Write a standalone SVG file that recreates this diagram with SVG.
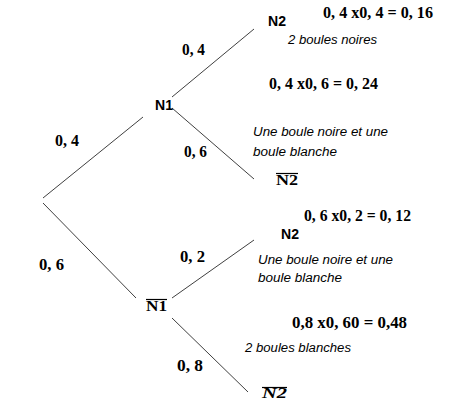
<svg xmlns="http://www.w3.org/2000/svg" width="451" height="410" viewBox="0 0 451 410">
<style>
.edge{stroke:#404040;stroke-width:1;fill:none}
.node{font-family:"Liberation Sans",Arial,sans-serif;font-weight:bold;font-size:14px;fill:#000}
.nodeS{font-family:"Liberation Serif","DejaVu Serif",serif;font-weight:bold;font-size:15px;fill:#000}
.prob{font-family:"Liberation Serif","DejaVu Serif",serif;font-weight:bold;font-size:16px;fill:#000}
.note{font-family:"Liberation Sans",Arial,sans-serif;font-style:italic;font-size:12px;fill:#000}
.bar{stroke:#000;stroke-width:1.2}
</style>
<rect width="451" height="410" fill="#fff"/>
<g id="connectors">
<line class="edge" x1="43" y1="198" x2="143" y2="117"/>
<line class="edge" x1="43" y1="203" x2="136" y2="298"/>
<line class="edge" x1="172" y1="97" x2="254" y2="29"/>
<line class="edge" x1="172" y1="108" x2="254" y2="179"/>
<line class="edge" x1="172" y1="298" x2="254" y2="240"/>
<line class="edge" x1="172" y1="318" x2="248" y2="392"/>
</g>
<g id="node-N1"><text class="node" x="155" y="110" textLength="18" lengthAdjust="spacingAndGlyphs">N1</text></g>
<g id="node-N1bar"><line class="bar" x1="146" y1="299.5" x2="167" y2="299.5"/><text class="nodeS" x="146" y="311" textLength="21" lengthAdjust="spacingAndGlyphs">N1</text></g>
<g id="node-N2-top"><text class="node" x="268" y="26" textLength="18" lengthAdjust="spacingAndGlyphs">N2</text></g>
<g id="node-N2bar-top"><line class="bar" x1="276" y1="173.5" x2="298" y2="173.5"/><text class="nodeS" x="276" y="185" textLength="22" lengthAdjust="spacingAndGlyphs">N2</text></g>
<g id="node-N2-mid"><text class="node" x="281" y="239" textLength="18" lengthAdjust="spacingAndGlyphs">N2</text></g>
<g id="node-N2bar-bottom"><line class="bar" x1="262" y1="387.5" x2="287" y2="387.5"/><text class="nodeS" x="262" y="398" font-style="italic" textLength="25" lengthAdjust="spacingAndGlyphs">N2</text></g>
<g id="edge-labels">
<text class="prob" x="55" y="146" textLength="24" lengthAdjust="spacingAndGlyphs">0, 4</text>
<text class="prob" x="39" y="270" textLength="25" lengthAdjust="spacingAndGlyphs">0, 6</text>
<text class="prob" x="182" y="55" textLength="23" lengthAdjust="spacingAndGlyphs">0, 4</text>
<text class="prob" x="184" y="157" textLength="23" lengthAdjust="spacingAndGlyphs">0, 6</text>
<text class="prob" x="180" y="262" textLength="25" lengthAdjust="spacingAndGlyphs">0, 2</text>
<text class="prob" x="177" y="371" textLength="26" lengthAdjust="spacingAndGlyphs">0, 8</text>
</g>
<g id="results">
<text class="prob" x="323" y="18" textLength="110" lengthAdjust="spacingAndGlyphs">0, 4 x0, 4 = 0, 16</text>
<text class="note" x="288" y="44" textLength="89" lengthAdjust="spacingAndGlyphs">2 boules noires</text>
<text class="prob" x="269" y="89" textLength="109" lengthAdjust="spacingAndGlyphs">0, 4 x0, 6 = 0, 24</text>
<text class="note" x="253" y="136" textLength="135" lengthAdjust="spacingAndGlyphs">Une boule noire et une</text>
<text class="note" x="253" y="156" textLength="84" lengthAdjust="spacingAndGlyphs">boule blanche</text>
<text class="prob" x="304" y="221" textLength="107" lengthAdjust="spacingAndGlyphs">0, 6 x0, 2 = 0, 12</text>
<text class="note" x="258" y="264" textLength="135" lengthAdjust="spacingAndGlyphs">Une boule noire et une</text>
<text class="note" x="258" y="282" textLength="84" lengthAdjust="spacingAndGlyphs">boule blanche</text>
<text class="prob" x="292" y="328" textLength="115" lengthAdjust="spacingAndGlyphs">0,8 x0, 60 = 0,48</text>
<text class="note" x="245" y="352" textLength="106" lengthAdjust="spacingAndGlyphs">2 boules blanches</text>
</g>
</svg>
